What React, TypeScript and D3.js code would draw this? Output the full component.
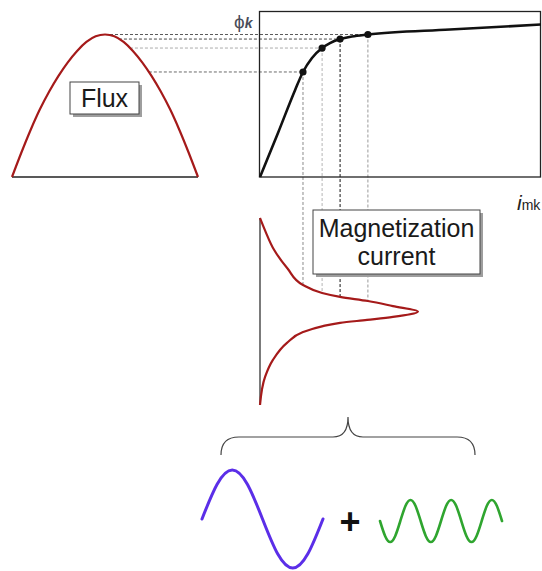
import React from "react";
import * as d3 from "d3";

// ---- data (normalised units) ----
// flux half wave: time fraction vs flux (1 = peak φk)
const FLUX_T = [0, 0.05, 0.1, 0.15, 0.2, 0.25, 0.3, 0.35, 0.4, 0.45, 0.5, 0.55, 0.6, 0.65, 0.7, 0.75, 0.8, 0.85, 0.9, 0.95, 1];
const FLUX_PHI = [0, 0.17, 0.33, 0.475, 0.6, 0.71, 0.805, 0.885, 0.948, 0.988, 1, 0.988, 0.948, 0.885, 0.805, 0.71, 0.6, 0.475, 0.33, 0.17, 0];

// magnetisation (saturation) curve: current vs flux
const BH_I = [0, 6.4, 12.5, 15.3, 18.5, 22.1, 24.9, 28.5, 32.7, 38.4, 67.6, 100];
const BH_PHI = [0, 0.309, 0.611, 0.737, 0.835, 0.905, 0.94, 0.968, 0.986, 1.0, 1.035, 1.07];

// marked operating points on the knee
const KNEE_I = [15.3, 22.1, 28.5, 38.4];
const KNEE_PHI = [0.737, 0.905, 0.968, 1.0];
const KNEE_H_COLORS = ["#6a6a6a", "#ababab", "#4a4a4a", "#5a5a5a"];
const KNEE_V_COLORS = ["#8a8a8a", "#b4b4b4", "#111111", "#9a9a9a"];

// magnetisation current over a half period: time fraction vs current
const CUR_T = [0, 0.07, 0.17, 0.27, 0.358, 0.401, 0.422, 0.444, 0.471, 0.5, 0.529, 0.545, 0.561, 0.578, 0.61, 0.668, 0.759, 0.85, 1];
const CUR_I = [0, 1.9, 5.0, 9.8, 15.3, 22.1, 28.5, 38.4, 47.3, 56.2, 47.3, 38.1, 28.5, 22.4, 15.3, 9.6, 4.6, 1.8, 0];

// fundamental (one period) and third harmonic (three periods)
const FUND_T = [0, 0.125, 0.25, 0.375, 0.5, 0.625, 0.75, 0.875, 1];
const FUND_V = [0, 0.71, 1, 0.71, 0, -0.71, -1, -0.71, 0];
const HARM_T = [0, 0.125, 0.25, 0.375, 0.5, 0.625, 0.75, 0.875, 1, 1.125, 1.25, 1.375, 1.5, 1.625, 1.75, 1.875, 2, 2.125, 2.25, 2.375, 2.5, 2.625, 2.75, 2.875, 3];
const HARM_V = [0, -0.71, -1, -0.71, 0, 0.71, 1, 0.71, 0, -0.71, -1, -0.71, 0, 0.71, 1, 0.71, 0, -0.71, -1, -0.71, 0, 0.71, 1, 0.71, 0];

const LABEL_FLUX = "Flux";
const LABEL_CURRENT = ["Magnetization", "current"];
const LABEL_PHI = "ϕ";
const LABEL_PHI_SUB = "k";
const LABEL_I = "i";
const LABEL_I_SUB = "mk";

const FONT = "'Liberation Sans', Arial, Helvetica, sans-serif";
const RED = "#a51a1a";

function interp(xs: number[], ys: number[], x: number): number {
  for (let k = 0; k < xs.length - 1; k++) {
    const a = xs[k], b = xs[k + 1];
    if ((x >= a && x <= b) || (x <= a && x >= b)) {
      if (b === a) return ys[k];
      return ys[k] + ((x - a) / (b - a)) * (ys[k + 1] - ys[k]);
    }
  }
  return ys[ys.length - 1];
}

export default function App() {
  const W = 542, H = 571;
  // scales
  const fluxX = d3.scaleLinear().domain([0, 1]).range([12, 198]);
  const phiY = d3.scaleLinear().domain([0, 1]).range([177, 34.5]);
  const iX = d3.scaleLinear().domain([0, 100]).range([260, 541]);
  const tY = d3.scaleLinear().domain([0, 1]).range([218, 405]);
  const fundX = d3.scaleLinear().domain([0, 1]).range([202, 323]);
  const fundY = d3.scaleLinear().domain([-1, 1]).range([568, 470]);
  const harmX = d3.scaleLinear().domain([0, 3]).range([380, 502]);
  const harmY = d3.scaleLinear().domain([-1, 1]).range([542, 500]);

  const fluxPts = FLUX_T.map((t, k) => [fluxX(t), phiY(FLUX_PHI[k])] as [number, number]);
  const fluxPath = d3.line().curve(d3.curveMonotoneX)(fluxPts) || "";

  const bhPts = BH_I.map((v, k) => [iX(v), phiY(BH_PHI[k])] as [number, number]);
  const bhPath = d3.line().curve(d3.curveMonotoneX)(bhPts) || "";

  const curPts = CUR_T.map((t, k) => [iX(CUR_I[k]), tY(t)] as [number, number]);
  const curPath = d3.line().curve(d3.curveMonotoneY)(curPts) || "";

  const fundPath = d3.line().curve(d3.curveNatural)(FUND_T.map((t, k) => [fundX(t), fundY(FUND_V[k])] as [number, number])) || "";
  const harmPath = d3.line().curve(d3.curveNatural)(HARM_T.map((t, k) => [harmX(t), harmY(HARM_V[k])] as [number, number])) || "";

  // right half of flux for intersections
  const half = FLUX_T.findIndex((t) => t >= 0.5);
  const rT = FLUX_T.slice(half), rP = FLUX_PHI.slice(half);
  const peakIdx = CUR_I.indexOf(Math.max(...CUR_I));
  const upT = CUR_T.slice(0, peakIdx + 1), upI = CUR_I.slice(0, peakIdx + 1);

  // brace geometry
  const br = { l: 221, r: 475, mid: 348, end: 455, bar: 437, tip: 417, rad: 18 };
  const bp = d3.path();
  bp.moveTo(br.l, br.end);
  bp.quadraticCurveTo(br.l, br.bar, br.l + br.rad, br.bar);
  bp.lineTo(br.mid - 15, br.bar);
  bp.quadraticCurveTo(br.mid, br.bar, br.mid, br.tip);
  bp.quadraticCurveTo(br.mid, br.bar, br.mid + 15, br.bar);
  bp.lineTo(br.r - br.rad, br.bar);
  bp.quadraticCurveTo(br.r, br.bar, br.r, br.end);

  const fluxBox = { x: 70, y: 82, w: 69, h: 32 };
  const curBox = { x: 313, y: 210, w: 167, h: 64 };

  return (
    <svg width={W} height={H} style={{ position: "absolute", left: 0, top: 0, background: "#fff" }} fontFamily={FONT}>
      <rect x={0} y={0} width={W} height={H} fill="#fff" />

      {/* horizontal dashed projections from flux to knee points */}
      {KNEE_PHI.map((p, k) => {
        const t = p >= 1 ? 0.5 : interp(rP, rT, p);
        return (
          <line key={"h" + k} x1={fluxX(t)} x2={iX(KNEE_I[k])} y1={phiY(p)} y2={phiY(p)}
            stroke={KNEE_H_COLORS[k]} strokeWidth={1} strokeDasharray="3,2" />
        );
      })}
      {/* vertical dashed projections from knee points to current */}
      {KNEE_I.map((v, k) => {
        const t = interp(upI, upT, v);
        return (
          <line key={"v" + k} x1={iX(v)} x2={iX(v)} y1={phiY(KNEE_PHI[k])} y2={tY(t)}
            stroke={KNEE_V_COLORS[k]} strokeWidth={1} strokeDasharray="3,2" />
        );
      })}

      {/* flux half wave */}
      <line x1={fluxX(0)} x2={fluxX(1)} y1={phiY(0)} y2={phiY(0)} stroke="#222" strokeWidth={1.5} />
      <path d={fluxPath} fill="none" stroke={RED} strokeWidth={2.2} />

      {/* saturation curve frame */}
      <rect x={iX(0) - 0.5} y={11.5} width={iX(100) - iX(0)} height={phiY(0) - 11.5} fill="none" stroke="#222" strokeWidth={1.3} />
      <path d={bhPath} fill="none" stroke="#111" strokeWidth={2.6} strokeLinejoin="round" />
      {KNEE_I.map((v, k) => (
        <circle key={"d" + k} cx={iX(v)} cy={phiY(KNEE_PHI[k])} r={3.6} fill="#111" />
      ))}

      {/* axis labels */}
      <text x={234} y={28} fontSize={19} fill="#4a4d5a">{LABEL_PHI}
        <tspan fontSize={14} fontStyle="italic" fontWeight="bold" dx={0}>{LABEL_PHI_SUB}</tspan>
      </text>
      <text x={517} y={210} fontSize={21} fill="#222" fontStyle="italic">{LABEL_I}
        <tspan fontStyle="normal" fontSize={14}>{LABEL_I_SUB}</tspan>
      </text>

      {/* current wave */}
      <line x1={iX(0)} x2={iX(0)} y1={tY(0)} y2={tY(1)} stroke="#222" strokeWidth={1.2} />
      <path d={curPath} fill="none" stroke={RED} strokeWidth={2.2} />

      {/* Flux label box */}
      <rect x={fluxBox.x + 3} y={fluxBox.y + 3} width={fluxBox.w} height={fluxBox.h} fill="#9e9e9e" />
      <rect x={fluxBox.x} y={fluxBox.y} width={fluxBox.w} height={fluxBox.h} fill="#fff" stroke="#444" strokeWidth={1} />
      <text x={fluxBox.x + fluxBox.w / 2} y={107} fontSize={25} textAnchor="middle" fill="#1a1a1a">{LABEL_FLUX}</text>

      {/* Magnetization current label box */}
      <rect x={curBox.x + 3} y={curBox.y + 3} width={curBox.w} height={curBox.h} fill="#9e9e9e" />
      <rect x={curBox.x} y={curBox.y} width={curBox.w} height={curBox.h} fill="#fff" stroke="#444" strokeWidth={1} />
      <text x={curBox.x + curBox.w / 2} y={237} fontSize={25} textAnchor="middle" fill="#1a1a1a">{LABEL_CURRENT[0]}</text>
      <text x={curBox.x + curBox.w / 2} y={265} fontSize={25} textAnchor="middle" fill="#1a1a1a">{LABEL_CURRENT[1]}</text>

      {/* brace */}
      <path d={bp.toString()} fill="none" stroke="#444" strokeWidth={1.2} />

      {/* fundamental + harmonic */}
      <path d={fundPath} fill="none" stroke="#5b2ee8" strokeWidth={3} strokeLinecap="round" />
      <text x={350} y={534} fontSize={36} fontWeight="bold" textAnchor="middle" fill="#111">+</text>
      <path d={harmPath} fill="none" stroke="#2fa52f" strokeWidth={2.6} strokeLinecap="round" />
    </svg>
  );
}
